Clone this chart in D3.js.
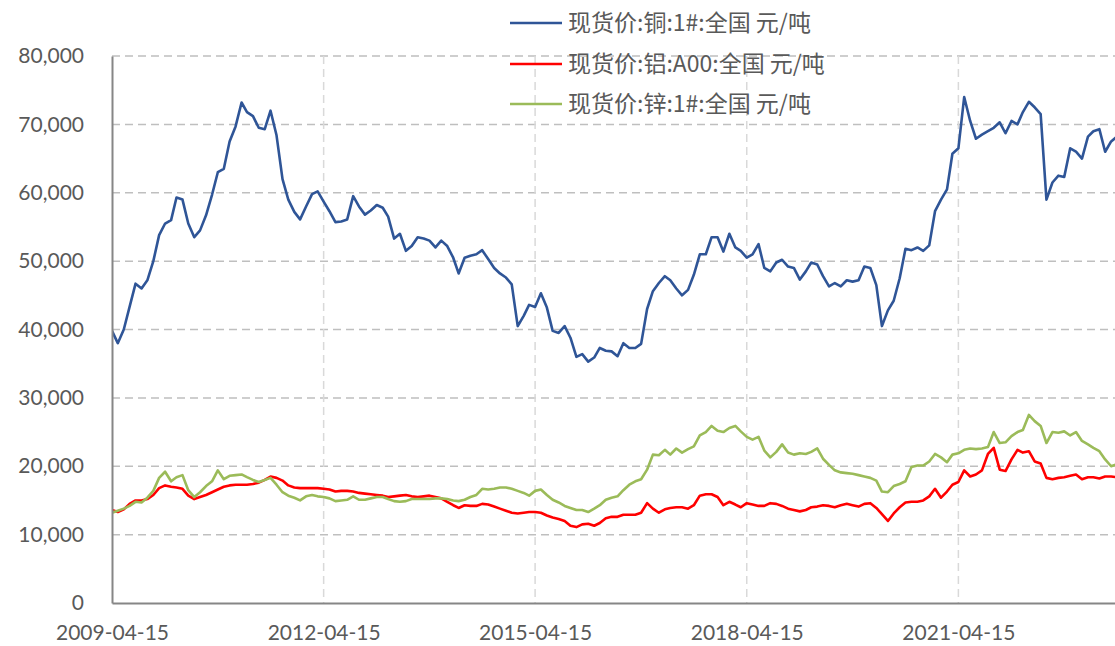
<!DOCTYPE html>
<html><head><meta charset="utf-8">
<script src="https://cdn.jsdelivr.net/npm/d3@7"></script>
<style>body{margin:0;background:#fff;} svg{display:block;}</style>
</head><body>
<svg id="chart" width="1115" height="646"></svg>
<script>
// Monthly samples starting 2009-04-15 (one per month)
const startDate = "2009-04-15";
const endDate = "2023-07-05";
const xTickLabels = ["2009-04-15","2012-04-15","2015-04-15","2018-04-15","2021-04-15"];
const yTicks = [0,10000,20000,30000,40000,50000,60000,70000,80000];
const seriesNames = ["现货价:铜:1#:全国 元/吨","现货价:铝:A00:全国 元/吨","现货价:锌:1#:全国 元/吨"];

const copper = [
39800,38000,40000,43300,46700,46000,47200,50000,53800,55500,56000,59300,59000,55500,53500,54500,56700,59700,63000,63500,
67500,69700,73200,71800,71200,69500,69300,72000,68400,62000,59000,57200,56100,58000,59800,60200,58700,57300,55700,55800,
56100,59500,58000,56800,57400,58200,57800,56500,53300,54000,51500,52200,53500,53300,53000,52000,53000,52200,50500,48200,
50500,50800,51000,51600,50300,49000,48200,47600,46600,40500,42000,43600,43300,45300,43200,39800,39500,40500,38800,36000,
36400,35300,35900,37300,36900,36800,36100,38000,37300,37300,37900,43000,45600,46800,47800,47200,46000,45000,45800,48000,
51000,51000,53500,53500,51400,54000,52000,51500,50500,51000,52500,49000,48500,49800,50200,49200,49000,47300,48500,49800,
49500,47800,46300,46800,46300,47200,47000,47200,49200,49000,46500,40500,42800,44200,47500,51800,51600,52000,51500,52300,
57300,59000,60500,65700,66500,74000,70500,67900,68500,69000,69500,70300,68700,70500,70000,71800,73300,72500,71500,59000,
61500,62500,62300,66500,66000,65000,68200,69000,69300,66000,67500,68200];

const aluminum = [
13600,13300,13700,14500,15000,15000,15200,15800,16800,17200,17000,16900,16700,15700,15200,15500,15800,16200,16600,17000,
17200,17300,17300,17300,17400,17600,18000,18500,18300,17900,17200,16900,16800,16800,16800,16800,16700,16600,16300,16400,
16400,16300,16100,16000,15900,15800,15700,15500,15600,15700,15800,15600,15500,15600,15700,15500,15300,14800,14300,13900,
14300,14200,14200,14500,14400,14100,13800,13500,13200,13100,13200,13300,13300,13200,12800,12500,12300,12000,11300,11100,
11500,11600,11300,11700,12400,12600,12600,12900,12900,12900,13200,14600,13800,13200,13700,13900,14000,14000,13800,14300,
15700,15900,15900,15500,14300,14800,14400,14000,14600,14400,14200,14200,14600,14500,14200,13800,13600,13400,13600,14000,
14100,14300,14200,14000,14300,14500,14300,14100,14500,14600,13900,13000,12000,13100,14000,14700,14800,14800,15000,15600,
16700,15400,16300,17300,17700,19400,18500,18800,19400,21800,22700,19500,19300,21000,22400,22000,22200,20700,20400,18300,
18100,18300,18400,18600,18800,18100,18400,18400,18200,18500,18500,18400];

const zinc = [
13200,13500,13800,14200,14800,14700,15400,16400,18300,19200,17800,18400,18700,16500,15500,16200,17100,17800,19400,18100,
18600,18700,18800,18400,18000,17700,18000,18300,17300,16200,15700,15400,15000,15600,15800,15600,15500,15300,14900,15000,
15100,15600,15100,15100,15300,15500,15500,15200,14900,14800,14900,15200,15200,15200,15200,15300,15300,15200,15000,14900,
15100,15500,15800,16700,16600,16700,16900,16900,16700,16400,16100,15700,16400,16600,15800,15100,14700,14200,13900,13600,
13600,13300,13800,14300,15100,15400,15600,16500,17300,17800,18100,19500,21700,21600,22400,21700,22600,22000,22500,22900,
24500,25000,25900,25200,25000,25600,25900,25100,24300,23900,24300,22300,21300,22100,23200,22000,21700,21900,21800,22100,
22600,21100,20200,19400,19100,19000,18900,18700,18500,18300,17900,16300,16200,17100,17400,17800,19900,20100,20100,20700,
21800,21300,20600,21700,21900,22400,22600,22500,22600,22800,25000,23400,23500,24400,25000,25300,27500,26600,25900,23400,
25000,24900,25100,24500,25000,23700,23200,22700,22200,21000,20000,20300];

const colors = ["#2F5597","#FF0000","#9BBB59"];

const parse = d3.timeParse("%Y-%m-%d");
const start = parse(startDate);
const dates = copper.map((_, i) => d3.timeMonth.offset(start, i));

const svg = d3.select("#chart");
const mLeft = 112, mRight = 1115, mTop = 56, mBottom = 603;

const x = d3.scaleTime().domain([start, parse(endDate)]).range([mLeft, mRight]);
const y = d3.scaleLinear().domain([0, 80000]).range([mBottom, mTop]);

// horizontal grid
svg.append("g").selectAll("line").data(yTicks.filter(d => d > 0)).join("line")
  .attr("x1", mLeft).attr("x2", mRight)
  .attr("y1", d => y(d)).attr("y2", d => y(d))
  .attr("stroke", "#BFBFBF").attr("stroke-width", 1.5).attr("stroke-dasharray", "8,5");

// vertical grid
svg.append("g").selectAll("line").data(xTickLabels.slice(1).map(parse)).join("line")
  .attr("x1", d => x(d)).attr("x2", d => x(d))
  .attr("y1", mTop).attr("y2", mBottom)
  .attr("stroke", "#D9D9D9").attr("stroke-width", 1.5).attr("stroke-dasharray", "8,5");

// lines
svg.append("clipPath").attr("id", "clip").append("rect")
  .attr("x", mLeft).attr("y", 0).attr("width", mRight - mLeft).attr("height", mBottom);
const series = [copper, aluminum, zinc];
const line = d3.line().x((d, i) => x(dates[i])).y(d => y(d));
const lg = svg.append("g").attr("clip-path", "url(#clip)");
series.forEach((s, k) => {
  lg.append("path").datum(s).attr("d", line)
    .attr("fill", "none").attr("stroke", colors[k]).attr("stroke-width", 2.6)
    .attr("stroke-linejoin", "round");
});

// axes
const yAxis = d3.axisLeft(y).tickValues(yTicks).tickFormat(d3.format(",")).tickSize(0).tickPadding(28);
const gy = svg.append("g").attr("transform", `translate(${mLeft},0)`).call(yAxis);
gy.select(".domain").attr("stroke", "#868686").attr("stroke-width", 2);
gy.selectAll("text").attr("font-family", "Lato, 'Liberation Sans', sans-serif").attr("font-size", 21).attr("fill", "#595959");

const xAxis = d3.axisBottom(x).tickValues(xTickLabels.map(parse)).tickFormat(d3.timeFormat("%Y-%m-%d")).tickSize(0).tickPadding(22);
const gx = svg.append("g").attr("transform", `translate(0,${mBottom})`).call(xAxis);
gx.select(".domain").attr("stroke", "#868686").attr("stroke-width", 2);
gx.selectAll("text").attr("font-family", "Lato, 'Liberation Sans', sans-serif").attr("font-size", 21).attr("fill", "#595959");

// legend
const legY = [23, 64, 104];
const leg = svg.append("g");
seriesNames.forEach((n, k) => {
  leg.append("line").attr("x1", 510).attr("x2", 562).attr("y1", legY[k]).attr("y2", legY[k])
    .attr("stroke", colors[k]).attr("stroke-width", 2.6);
  leg.append("text").attr("x", 568).attr("y", legY[k]).attr("dy", "0.35em")
    .attr("font-family", "'Noto Sans CJK SC', sans-serif").attr("font-size", 23)
    .attr("fill", "#595959").text(n);
});
</script>
</body></html>
